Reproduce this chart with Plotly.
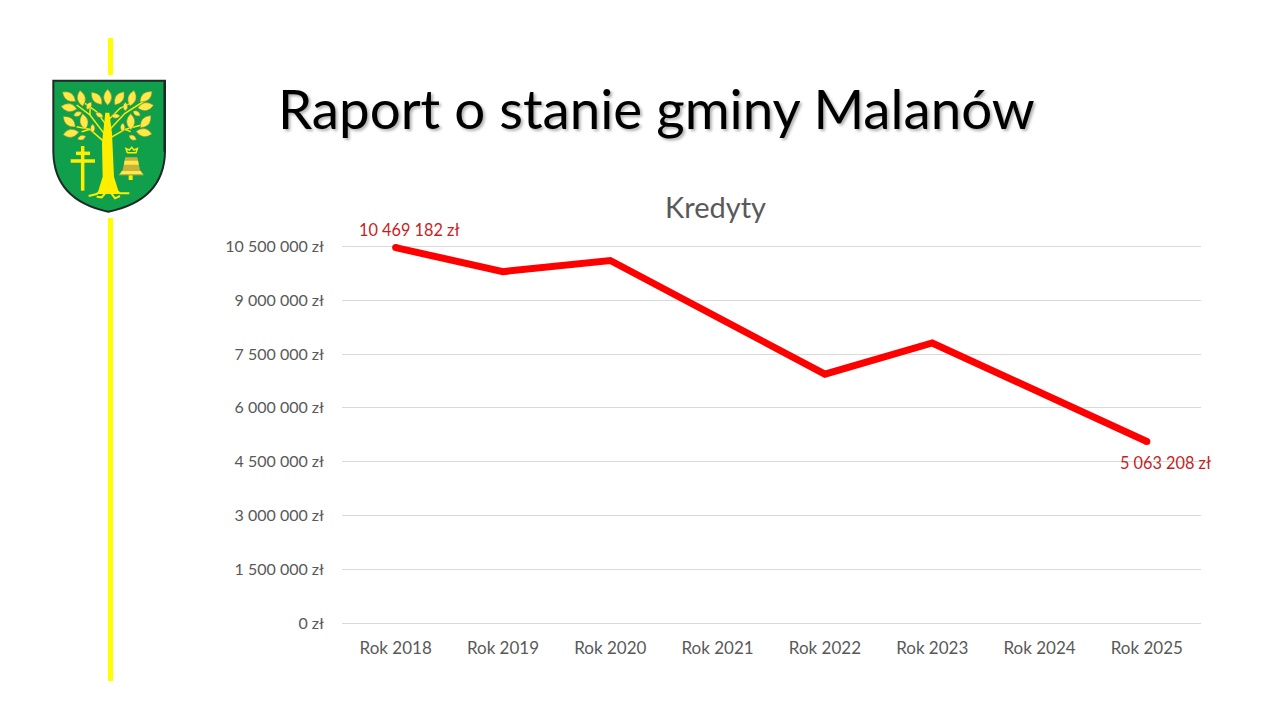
import math
import plotly.graph_objects as go

years = ["Rok 2018", "Rok 2019", "Rok 2020", "Rok 2021", "Rok 2022", "Rok 2023", "Rok 2024", "Rok 2025"]
kredyty = [10469182, 9800000, 10110000, 8530000, 6940000, 7810000, 6440000, 5063208]
tick_vals = [0, 1500000, 3000000, 4500000, 6000000, 7500000, 9000000, 10500000]
tick_text = ["0 zł", "1 500 000 zł", "3 000 000 zł", "4 500 000 zł", "6 000 000 zł", "7 500 000 zł", "9 000 000 zł", "10 500 000 zł"]
label_first = "10 469 182 zł"
label_last = "5 063 208 zł"

FONT = "Lato"
GREEN = "#10a04c"
YELLOW = "#ffee00"
# the page keeps its 8px body margin, so the figure is smaller than the window
W, H, OFF = 1264, 704, 8


# helpers for the page decoration, pixel positions -> paper fractions
def px(x):
    return (x - OFF) / W


def py(y):
    return 1 - (y - OFF) / H


def zx(x):
    return px(40 + x / 3)


def zy(y):
    return py(70 + y / 3)


def p(x, y):
    return f"{zx(x):.5f},{zy(y):.5f}"


def path(d, fill, line=None, width=0):
    return dict(type="path", path=d, xref="paper", yref="paper", fillcolor=fill,
                line=dict(color=line or fill, width=width), layer="above")


def poly(points, fill):
    d = "M" + " L".join(p(x, y) for x, y in points) + " Z"
    return path(d, fill)


def stroke(points, width, color=YELLOW):
    d = "M" + " L".join(p(x, y) for x, y in points)
    return dict(type="path", path=d, xref="paper", yref="paper",
                line=dict(color=color, width=width), layer="above")


def leaf(cx, cy, angle, length=24, wide=12):
    a = math.radians(angle)
    ux, uy = math.cos(a), math.sin(a)
    nx, ny = -uy, ux
    t1 = (cx - ux * length, cy - uy * length)
    t2 = (cx + ux * length, cy + uy * length)
    c1 = (cx + nx * wide * 2, cy + ny * wide * 2)
    c2 = (cx - nx * wide * 2, cy - ny * wide * 2)
    d = f"M{p(*t1)} Q{p(*c1)} {p(*t2)} Q{p(*c2)} {p(*t1)} Z"
    return path(d, "#ffe94a", "#8a8a20", 0.5)


shapes = []

# yellow bar left of the emblem
for y0, y1 in [(38, 75), (218, 681)]:
    shapes.append(dict(type="line", xref="paper", yref="paper", x0=px(110.5), x1=px(110.5),
                       y0=py(y0), y1=py(y1), line=dict(color="#ffff00", width=5), layer="above"))

# shield
shield = (f"M{p(40,32)} L{p(375,32)} L{p(375,245)} Q{p(372,390)} {p(205,425)} "
          f"Q{p(42,390)} {p(40,245)} Z")
shapes.append(path(shield, GREEN, "#1d2a25", 2))
shapes.append(stroke([(374, 34), (374, 245)], 2.5, "#1d2a25"))

# tree
shapes.append(poly([(172, 372), (188, 320), (186, 220), (196, 128), (208, 128), (216, 190),
                    (222, 320), (238, 372)], YELLOW))
for branch in [
    [(192, 215), (150, 178), (110, 170)], [(150, 178), (125, 185)], [(192, 190), (150, 135), (110, 105)],
    [(195, 160), (170, 125), (135, 100)], [(208, 205), (255, 178), (305, 165)], [(255, 178), (272, 185)],
    [(208, 180), (255, 130), (310, 95)], [(205, 150), (240, 115), (270, 100)], [(150, 135), (150, 110)],
]:
    shapes.append(stroke(branch, 1.5))
for root in [[(195, 350), (170, 372), (146, 378)], [(215, 350), (240, 370), (268, 370)],
             [(200, 365), (185, 382), (170, 380)], [(210, 365), (225, 385), (240, 378)]]:
    shapes.append(stroke(root, 2))

leaves = [(87, 80, 35), (124, 85, 80), (170, 85, 50), (203, 82, 90), (238, 85, -55), (276, 85, -75),
          (318, 80, -40), (87, 113, 10), (317, 110, -10), (88, 155, 40), (132, 155, 80), (272, 155, 90),
          (317, 155, -50), (93, 190, -10), (312, 188, 10)]
small_leaves = [(147, 107, -60), (113, 132, -20), (178, 135, 30), (227, 138, 0), (256, 110, 90), (290, 130, 30),
                (158, 175, 90), (248, 172, 90), (125, 203, -20), (278, 203, 30)]
for cx, cy, ang in leaves:
    shapes.append(leaf(cx, cy, ang))
for cx, cy, ang in small_leaves:
    shapes.append(leaf(cx, cy, ang, 13, 7))

# double cross
shapes.append(stroke([(128, 228), (128, 362)], 3.5))
shapes.append(stroke([(108, 250), (150, 250)], 3.5))
shapes.append(stroke([(92, 273), (165, 273)], 3.5))

# bell
shapes.append(poly([(256, 262), (292, 262), (300, 300), (312, 316), (236, 316), (248, 300)], "#c9b23a"))
shapes.append(poly([(254, 272), (294, 272), (296, 284), (252, 284)], "#ffe94a"))
shapes.append(poly([(246, 303), (302, 303), (308, 312), (240, 312)], "#ffe94a"))
shapes.append(stroke([(262, 248), (258, 236), (268, 240), (275, 232), (282, 240), (292, 236), (288, 248), (262, 248)], 1.5))
shapes.append(stroke([(272, 316), (272, 330)], 4))

fig = go.Figure()
fig.add_trace(go.Scatter(x=years, y=kredyty, mode="lines", cliponaxis=False,
                         line=dict(color="#ff0000", width=7), hoverinfo="skip"))
# rounded line ends
fig.add_trace(go.Scatter(x=[years[0], years[-1]], y=[kredyty[0], kredyty[-1]], mode="markers", cliponaxis=False,
                         marker=dict(color="#ff0000", size=7, opacity=1, line=dict(width=0)), hoverinfo="skip"))

fig.add_annotation(x=years[0], y=kredyty[0], text=label_first, showarrow=False, xshift=13, yshift=18,
                   font=dict(family=FONT, size=16.3, color="#c81e1e"))
fig.add_annotation(x=years[-1], y=kredyty[-1], text=label_last, showarrow=False, xshift=19, yshift=-21,
                   font=dict(family=FONT, size=16.3, color="#c81e1e"))
fig.add_annotation(xref="paper", yref="paper", x=px(656), y=py(108), xanchor="center", yanchor="middle",
                   text="Raport o stanie gminy Malanów", showarrow=False,
                   font=dict(family=FONT, size=54.7, color="#000000", shadow="2px 2px 3px #b0b0b0"))

# top of the range a few px above the last tick, plotly skips a gridline right at the axis end
fig.update_layout(
    width=W, height=H, margin=dict(l=0, r=0, t=0, b=0, pad=0, autoexpand=False),
    paper_bgcolor="white", plot_bgcolor="white", showlegend=False,
    title=dict(text="Kredyty", x=px(715.5), xanchor="center", y=py(208), yanchor="middle",
               font=dict(family=FONT, size=29, color="#595959")),
    xaxis=dict(domain=[px(342), px(1200.5)], range=[-0.5, 7.5], type="category",
               showgrid=False, showline=True, linecolor="#d9d9d9", ticks="",
               tickfont=dict(family=FONT, size=17, color="#595959"), ticklabelstandoff=10),
    yaxis=dict(domain=[py(623), py(243.5)], range=[0, 10584000], tickvals=tick_vals, ticktext=tick_text,
               showgrid=True, gridcolor="#d9d9d9", gridwidth=1, zeroline=False, ticks="",
               tickfont=dict(family=FONT, size=16, color="#595959"), ticklabelstandoff=17),
    shapes=shapes,
)

fig.write_html("out.html")
